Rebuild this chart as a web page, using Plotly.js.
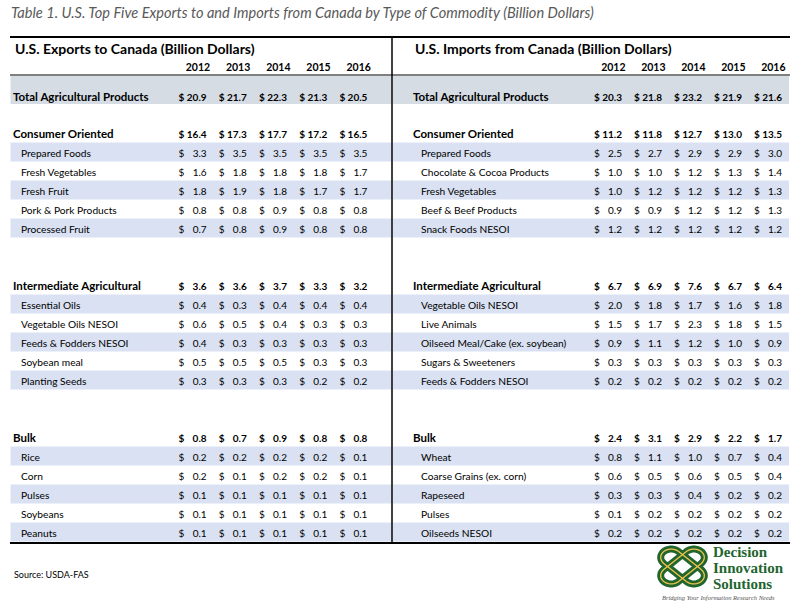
<!DOCTYPE html>
<html>
<head>
<meta charset="utf-8">
<script src="https://cdn.plot.ly/plotly-3.0.1.min.js"></script>
<style>html,body{margin:0;padding:0;background:#fff;}#chart{width:794px;height:604px;}</style>
</head>
<body>
<div id="chart"></div>
<script>
// ---------------- DATA ----------------
const years = [2012, 2013, 2014, 2015, 2016];

const exportHeader = "U.S. Exports to Canada (Billion Dollars)";
const importHeader = "U.S. Imports from Canada (Billion Dollars)";
const totalLabel = "Total Agricultural Products";
const sectionNames = ["Consumer Oriented", "Intermediate Agricultural", "Bulk"];

const exportTotal = [20.9, 21.7, 22.3, 21.3, 20.5];
const exportConsumerTotal = [16.4, 17.3, 17.7, 17.2, 16.5];
const exportConsumerItems = ["Prepared Foods", "Fresh Vegetables", "Fresh Fruit", "Pork & Pork Products", "Processed Fruit"];
const exportConsumerValues = [
  [3.3, 3.5, 3.5, 3.5, 3.5],
  [1.6, 1.8, 1.8, 1.8, 1.7],
  [1.8, 1.9, 1.8, 1.7, 1.7],
  [0.8, 0.8, 0.9, 0.8, 0.8],
  [0.7, 0.8, 0.9, 0.8, 0.8]
];
const exportIntermediateTotal = [3.6, 3.6, 3.7, 3.3, 3.2];
const exportIntermediateItems = ["Essential Oils", "Vegetable Oils NESOI", "Feeds & Fodders NESOI", "Soybean meal", "Planting Seeds"];
const exportIntermediateValues = [
  [0.4, 0.3, 0.4, 0.4, 0.4],
  [0.6, 0.5, 0.4, 0.3, 0.3],
  [0.4, 0.3, 0.3, 0.3, 0.3],
  [0.5, 0.5, 0.5, 0.3, 0.3],
  [0.3, 0.3, 0.3, 0.2, 0.2]
];
const exportBulkTotal = [0.8, 0.7, 0.9, 0.8, 0.8];
const exportBulkItems = ["Rice", "Corn", "Pulses", "Soybeans", "Peanuts"];
const exportBulkValues = [
  [0.2, 0.2, 0.2, 0.2, 0.1],
  [0.2, 0.1, 0.2, 0.2, 0.1],
  [0.1, 0.1, 0.1, 0.1, 0.1],
  [0.1, 0.1, 0.1, 0.1, 0.1],
  [0.1, 0.1, 0.1, 0.1, 0.1]
];

const importTotal = [20.3, 21.8, 23.2, 21.9, 21.6];
const importConsumerTotal = [11.2, 11.8, 12.7, 13.0, 13.5];
const importConsumerItems = ["Prepared Foods", "Chocolate & Cocoa Products", "Fresh Vegetables", "Beef & Beef Products", "Snack Foods NESOI"];
const importConsumerValues = [
  [2.5, 2.7, 2.9, 2.9, 3.0],
  [1.0, 1.0, 1.2, 1.3, 1.4],
  [1.0, 1.2, 1.2, 1.2, 1.3],
  [0.9, 0.9, 1.2, 1.2, 1.3],
  [1.2, 1.2, 1.2, 1.2, 1.2]
];
const importIntermediateTotal = [6.7, 6.9, 7.6, 6.7, 6.4];
const importIntermediateItems = ["Vegetable Oils NESOI", "Live Animals", "Oilseed Meal/Cake (ex. soybean)", "Sugars & Sweeteners", "Feeds & Fodders NESOI"];
const importIntermediateValues = [
  [2.0, 1.8, 1.7, 1.6, 1.8],
  [1.5, 1.7, 2.3, 1.8, 1.5],
  [0.9, 1.1, 1.2, 1.0, 0.9],
  [0.3, 0.3, 0.3, 0.3, 0.3],
  [0.2, 0.2, 0.2, 0.2, 0.2]
];
const importBulkTotal = [2.4, 3.1, 2.9, 2.2, 1.7];
const importBulkItems = ["Wheat", "Coarse Grains (ex. corn)", "Rapeseed", "Pulses", "Oilseeds NESOI"];
const importBulkValues = [
  [0.8, 1.1, 1.0, 0.7, 0.4],
  [0.6, 0.5, 0.6, 0.5, 0.4],
  [0.3, 0.3, 0.4, 0.2, 0.2],
  [0.1, 0.2, 0.2, 0.2, 0.2],
  [0.2, 0.2, 0.2, 0.2, 0.2]
];

const titleText = "Table 1. U.S. Top Five Exports to and Imports from Canada by Type of Commodity (Billion Dollars)";
const sourceText = "Source: USDA-FAS";
const logoWords = ["Decision", "Innovation", "Solutions"];
const logoTagline = "Bridging Your Information Research Needs";

// ---------------- LAYOUT / STYLE ----------------
const FONT = "Lato, 'Open Sans', sans-serif";
const W = 794, H = 604;
const ROW0 = 133, ROWSTEP = 19;
const SECTION_ROWS = [0, 8, 16];
const TOTAL_Y = 98;
const BAND = "#d9e1f2", TOTALBAND = "#d6dce4";

const sides = [
  { header: exportHeader, headerX: 13, labelX: 13, itemX: 21, colStart: 178.6, colStep: 40.2, colW: 28, x0: 10.5, x1: 391.5,
    total: exportTotal,
    sections: [
      { total: exportConsumerTotal, items: exportConsumerItems, values: exportConsumerValues },
      { total: exportIntermediateTotal, items: exportIntermediateItems, values: exportIntermediateValues },
      { total: exportBulkTotal, items: exportBulkItems, values: exportBulkValues }
    ] },
  { header: importHeader, headerX: 413, labelX: 413, itemX: 421, colStart: 594, colStep: 40, colW: 28, x0: 393, x1: 789,
    total: importTotal,
    sections: [
      { total: importConsumerTotal, items: importConsumerItems, values: importConsumerValues },
      { total: importIntermediateTotal, items: importIntermediateItems, values: importIntermediateValues },
      { total: importBulkTotal, items: importBulkItems, values: importBulkValues }
    ] }
];

const rowY = k => ROW0 + ROWSTEP * k;
const TXT_DY = 2.5;

function textTrace(xs, ys, texts, pos, size, bold, color) {
  return {
    type: 'scatter', mode: 'text', x: xs, y: ys, text: texts, textposition: pos,
    textfont: { family: FONT, size: size, color: color || '#000', weight: bold ? 'bold' : 'normal' },
    hoverinfo: 'skip', showlegend: false, cliponaxis: false
  };
}

const traces = [];
const shapes = [];
const annotations = [];

// frame lines
shapes.push({ type: 'line', xref: 'x', yref: 'y', x0: 10, x1: 790, y0: 37, y1: 37, line: { color: '#000', width: 2 } });
shapes.push({ type: 'line', xref: 'x', yref: 'y', x0: 10, x1: 790, y0: 75, y1: 75, line: { color: '#000', width: 1.2 } });
shapes.push({ type: 'line', xref: 'x', yref: 'y', x0: 10, x1: 790, y0: 543, y1: 543, line: { color: '#000', width: 2 } });

sides.forEach(side => {
  const colX = i => side.colStart + side.colStep * i;
  shapes.push({ type: 'rect', xref: 'x', yref: 'y', layer: 'below', x0: side.x0, x1: side.x1, y0: 76, y1: 104, fillcolor: TOTALBAND, line: { width: 0 } });

  const lblX = [], lblY = [], lblT = [];
  const secX = [], secY = [], secT = [];
  const dolX = [], dolY = [], dolT = [];
  const valX = [], valY = [], valT = [];
  const bdX = [], bdY = [], bdT = [];
  const bvX = [], bvY = [], bvT = [];

  traces.push(textTrace(years.map((y, i) => colX(i) + side.colW + 3.5), years.map(() => 68), years.map(String), 'middle left', 10.5, true));

  secX.push(side.labelX); secY.push(TOTAL_Y); secT.push(totalLabel);
  side.total.forEach((v, i) => {
    bdX.push(colX(i)); bdY.push(TOTAL_Y); bdT.push('$');
    bvX.push(colX(i) + side.colW); bvY.push(TOTAL_Y); bvT.push(v.toFixed(1));
  });

  side.sections.forEach((sec, s) => {
    const k0 = SECTION_ROWS[s];
    const ys = rowY(k0) + TXT_DY;
    secX.push(side.labelX); secY.push(ys); secT.push(sectionNames[s]);
    sec.total.forEach((v, i) => {
      bdX.push(colX(i)); bdY.push(ys); bdT.push('$');
      bvX.push(colX(i) + side.colW); bvY.push(ys); bvT.push(v.toFixed(1));
    });
    sec.items.forEach((name, r) => {
      const yc = rowY(k0 + 1 + r);
      if (r % 2 === 0) {
        shapes.push({ type: 'rect', xref: 'x', yref: 'y', layer: 'below', x0: side.x0, x1: side.x1,
          y0: yc - ROWSTEP / 2, y1: yc + ROWSTEP / 2, fillcolor: BAND, line: { width: 0 } });
      }
      lblX.push(side.itemX); lblY.push(yc + TXT_DY); lblT.push(name);
      sec.values[r].forEach((v, i) => {
        dolX.push(colX(i)); dolY.push(yc + TXT_DY); dolT.push('$');
        valX.push(colX(i) + side.colW); valY.push(yc + TXT_DY); valT.push(v.toFixed(1));
      });
    });
  });

  traces.push(textTrace(lblX, lblY, lblT, 'middle right', 10.2, false));
  traces.push(textTrace(secX, secY, secT, 'middle right', 11.5, true));
  traces.push(textTrace(dolX, dolY, dolT, 'middle right', 10, false));
  traces.push(textTrace(valX, valY, valT, 'middle left', 10, false));
  traces.push(textTrace(bdX, bdY, bdT, 'middle right', 10, true));
  traces.push(textTrace(bvX, bvY, bvT, 'middle left', 10, true));

  annotations.push({ xref: 'x', yref: 'y', x: side.headerX, y: 48, xanchor: 'left', yanchor: 'middle', showarrow: false,
    text: side.header, font: { family: FONT, size: 14, color: '#000', weight: 'bold' } });
});

shapes.push({ type: 'line', xref: 'x', yref: 'y', x0: 392, x1: 392, y0: 37, y1: 543, line: { color: '#000', width: 1.5 } });

annotations.push({ xref: 'x', yref: 'y', x: 9, y: 12, xanchor: 'left', yanchor: 'middle', showarrow: false,
  text: titleText, font: { family: FONT, size: 14.6, color: '#595959', style: 'italic' } });
annotations.push({ xref: 'x', yref: 'y', x: 12, y: 574, xanchor: 'left', yanchor: 'middle', showarrow: false,
  text: sourceText, font: { family: FONT, size: 9, color: '#000' } });

// logo: two interlinked diagonal loops (knot)
const GREEN = '#22652f', YELLOW = '#f0c649';
const kc = { x: 682.5, y: 566.5 };
function stadiumPath(dirSign) {
  const L = 16, r = 10.5, sy = 0.8;
  const ux = Math.SQRT1_2, uy = dirSign * Math.SQRT1_2;
  const vx = -uy, vy = ux;
  const pts = [];
  const ends = [1, -1];
  ends.forEach(e => {
    const cx = e * L * ux, cy = e * L * uy;
    const base = Math.atan2(e * uy, e * ux);
    for (let t = -90; t <= 90; t += 10) {
      const a = base + t * Math.PI / 180;
      pts.push([cx + r * Math.cos(a), cy + r * Math.sin(a)]);
    }
  });
  return 'M' + pts.map(p => (kc.x + p[0]).toFixed(2) + ',' + (kc.y + p[1] * sy).toFixed(2)).join('L') + 'Z';
}
[1, -1].forEach(d => shapes.push({ type: 'path', xref: 'x', yref: 'y', path: stadiumPath(d), line: { color: GREEN, width: 7 } }));
[1, -1].forEach(d => shapes.push({ type: 'path', xref: 'x', yref: 'y', path: stadiumPath(d), line: { color: YELLOW, width: 1.3 } }));

logoWords.forEach((w, i) => {
  annotations.push({ xref: 'x', yref: 'y', x: 711, y: 552 + 16 * i, xanchor: 'left', yanchor: 'middle', showarrow: false,
    text: w, font: { family: "'Liberation Serif', 'DejaVu Serif', serif", size: 15, color: GREEN, weight: 'bold' } });
});
annotations.push({ xref: 'x', yref: 'y', x: 660, y: 597, xanchor: 'left', yanchor: 'middle', showarrow: false,
  text: logoTagline, font: { family: "'Liberation Serif', serif", size: 6.5, color: '#555', style: 'italic' } });

const layout = {
  width: W, height: H, margin: { l: 0, r: 0, t: 0, b: 0, pad: 0 },
  paper_bgcolor: '#fff', plot_bgcolor: '#fff',
  xaxis: { range: [0, W], visible: false, fixedrange: true },
  yaxis: { range: [H, 0], visible: false, fixedrange: true },
  shapes: shapes, annotations: annotations, showlegend: false, hovermode: false
};

Plotly.newPlot('chart', traces, layout, { displayModeBar: false, staticPlot: true });
</script>
</body>
</html>
